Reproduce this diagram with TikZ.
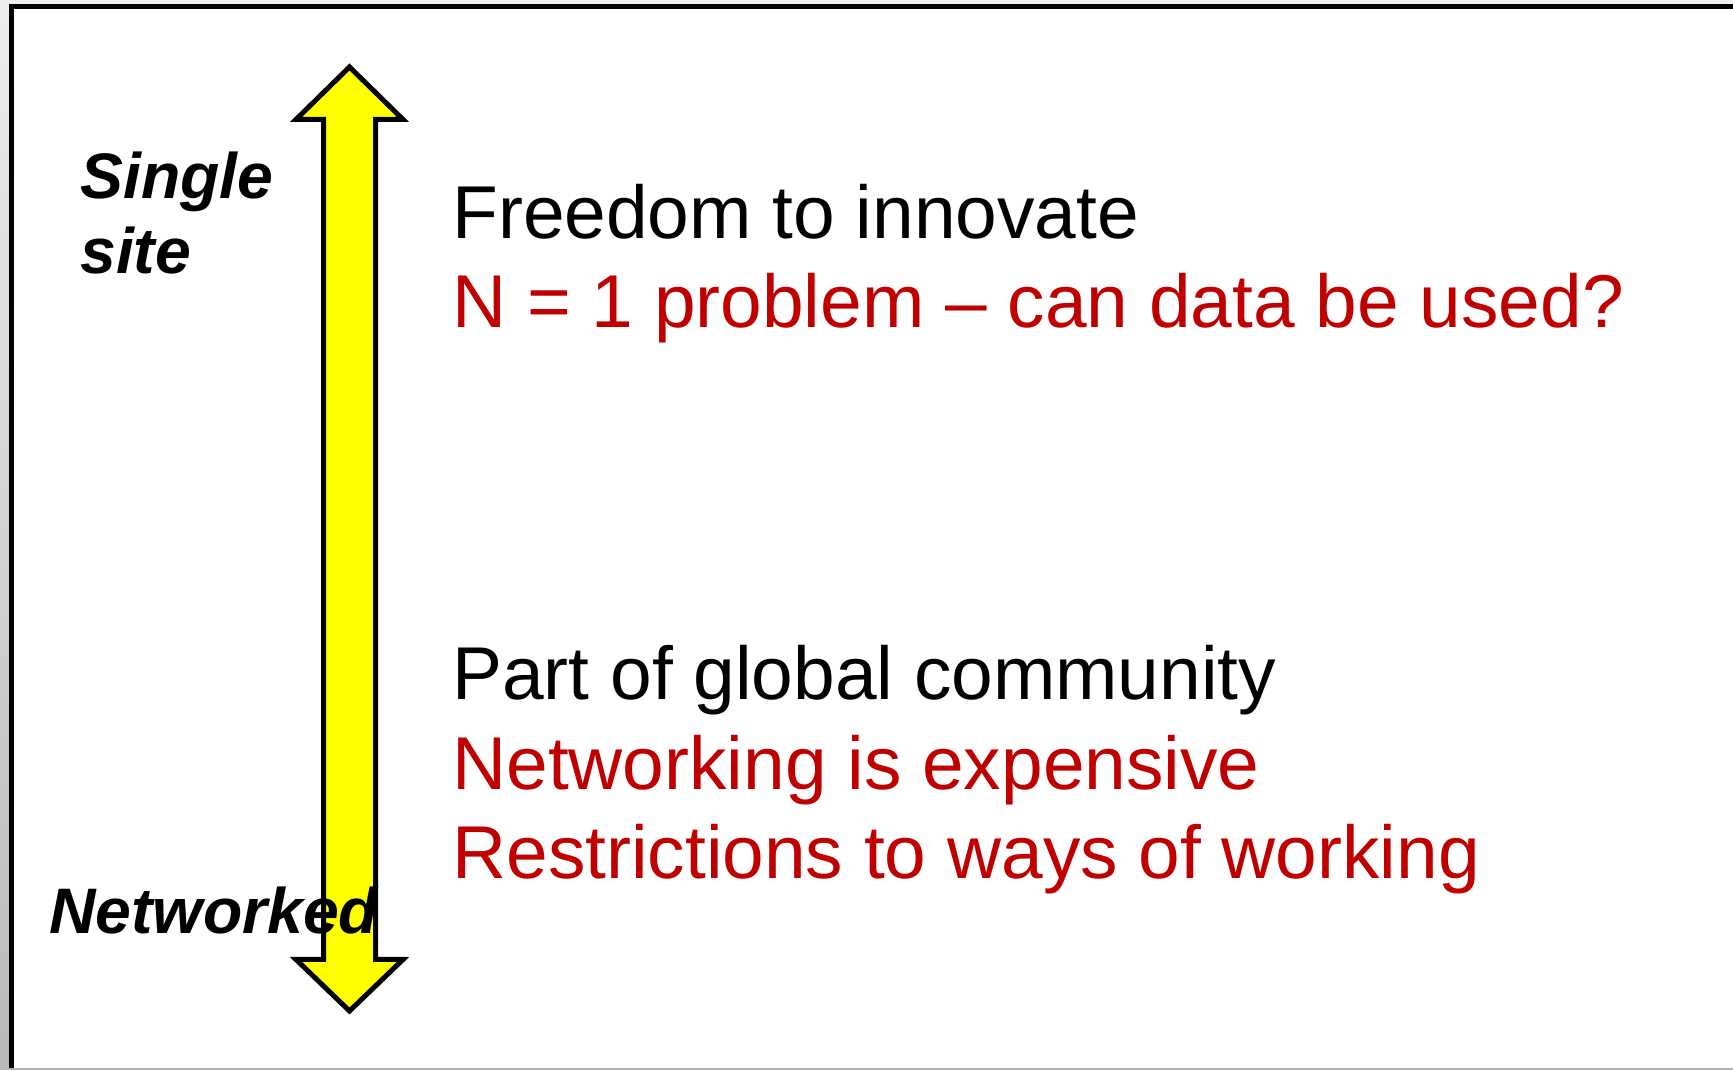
\documentclass[tikz,border=0pt]{standalone}
\usepackage{fontspec}
\setmainfont{Liberation Sans}
\definecolor{slidered}{RGB}{192,0,0}
\definecolor{arrowyellow}{RGB}{255,255,0}
\begin{document}
\begin{tikzpicture}[x=0.2mm,y=0.2mm,
        bigtxt/.style={anchor=base west,inner sep=0pt,font=\fontsize{42.6}{50.9}\selectfont},
        redtxt/.style={bigtxt,text=slidered},
        sidetxt/.style={anchor=base west,inner sep=0pt,font=\fontsize{36.6}{42.7}\selectfont\bfseries\itshape}]
        \useasboundingbox (0,0) rectangle (1733,1070);
        \fill[top color=gray!15,bottom color=gray!55] (0,0) rectangle (9,1070);
        \fill[gray!12] (9,1066) rectangle (1733,1070);
        \draw[line width=2.85pt] (11.5,0) -- (11.5,1063.5) -- (1733,1063.5);
        \draw[gray!60,line width=1.1pt] (9,1) -- (1733,1);
        \draw[fill=arrowyellow,line width=2.85pt,miter limit=10] (349.5,1003) -- (403,950.5) -- (375.5,950.5) -- (375.5,110.5) -- (403,110.5)
            -- (349.5,59) -- (296,110.5) -- (323.5,110.5) -- (323.5,950.5) -- (296,950.5) -- cycle;
        \node[sidetxt] (single) at (80,871) {Single};
        \node[sidetxt] (site) at (80,796) {site};
        \node[sidetxt] (networked) at (49,136) {Networked};
        \node[bigtxt] (freedom) at (452,831) {Freedom to innovate};
        \node[redtxt] (nproblem) at (452,742) {N = 1 problem – can data be used?};
        \node[bigtxt] (community) at (452,370) {Part of global community};
        \node[redtxt] (expensive) at (452,280) {Networking is expensive};
        \node[redtxt] (restrict) at (452,191) {Restrictions to ways of working};
    \end{tikzpicture}
\end{document}
